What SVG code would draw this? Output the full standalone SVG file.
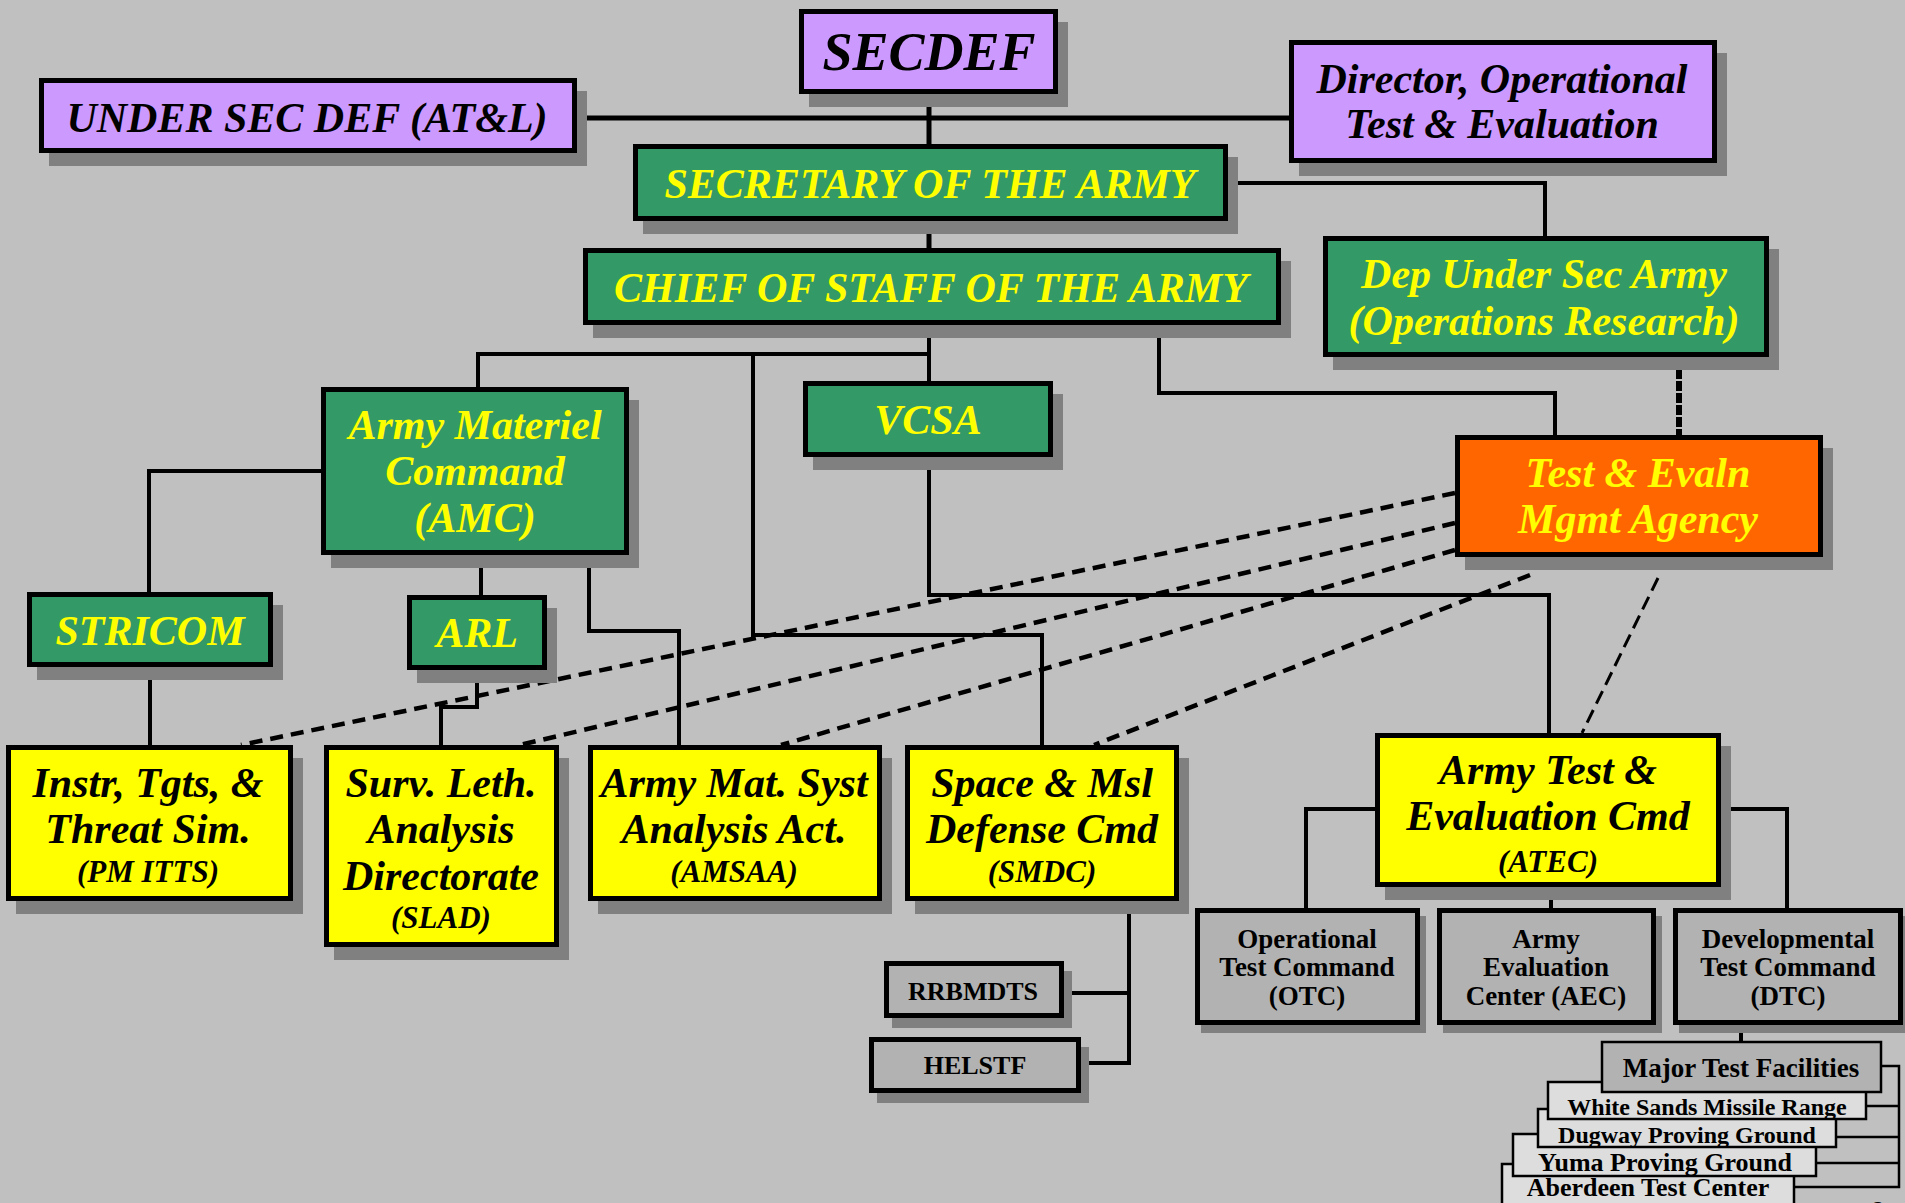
<svg xmlns="http://www.w3.org/2000/svg" width="1905" height="1203" viewBox="0 0 1905 1203">
<style>
.sh{fill:#808080}
.b{stroke:#000;stroke-width:5}
.pu{fill:#CC99FF}
.gr{fill:#339966}
.ye{fill:#FFFF00}
.or{fill:#FF6600}
.gy{fill:#B2B2B2}
.lt{fill:#DDDDDD;stroke:#000;stroke-width:2.5}
.mt{fill:#B2B2B2;stroke:#000;stroke-width:2.5}
.t{font-family:'Liberation Serif','Times New Roman',serif;font-weight:bold;font-style:italic;font-size:42px;text-anchor:middle}
.tk{fill:#000}
.ty{fill:#FFFF00}
.sm{font-size:31px}
.n{font-family:'Liberation Serif','Times New Roman',serif;font-weight:bold;font-size:27px;text-anchor:middle;fill:#000}
.c{fill:none;stroke:#000;stroke-width:4}
.c5{fill:none;stroke:#000;stroke-width:5}
.c2{fill:none;stroke:#000;stroke-width:2.5}
.d{fill:none;stroke:#000;stroke-width:4.5;stroke-dasharray:13 8}
.d2{fill:none;stroke:#000;stroke-width:3;stroke-dasharray:14 7}
.dd{fill:none;stroke:#000;stroke-width:6;stroke-dasharray:10 2}
</style>
<rect width="1905" height="1203" fill="#C0C0C0"/>
<g id="connectors">
<path class="c5" d="M929 94V144"/>
<path class="c5" d="M577 118H1289"/>
<path class="c5" d="M929 221V248"/>
<path class="c" d="M1228 183H1545V236"/>
<path class="c" d="M929 325V381"/>
<path class="c" d="M478 387V354H929"/>
<path class="c" d="M753 352V635H1042V745"/>
<path class="c" d="M1159 325V393H1555V435"/>
<path class="c" d="M929 457V595H1549V733"/>
<path class="c" d="M321 471H149V592"/>
<path class="c" d="M150 667V745"/>
<path class="c" d="M481 555V595"/>
<path class="c" d="M477 670V707H441V745"/>
<path class="c" d="M589 555V631H679V745"/>
<path class="c" d="M1129 901V1063H1081M1064 993H1129"/>
<path class="c" d="M1375 809H1306V908"/>
<path class="c" d="M1721 809H1787V908"/>
<path class="c" d="M1551 887V908"/>
<path class="c" d="M1741 1025V1041"/>
<path class="c2" d="M1882 1066H1899V1187H1795M1867 1106H1899M1837 1137H1899M1817 1163H1899"/>
<path class="d" d="M1455 493L241 745"/>
<path class="d" d="M1455 523L520 745"/>
<path class="d" d="M1455 550L781 745"/>
<path class="d" d="M1530 575L1094 745"/>
<path class="d2" d="M1658 578L1582 733"/>
<path class="dd" d="M1679 357V435"/>
</g>
<g id="usd"><rect class="sh" x="49" y="91" width="538" height="75"/><rect class="b pu" x="41.5" y="80.5" width="533" height="70"/><text class="t tk" x="307" y="132">UNDER SEC DEF (AT&amp;L)</text></g>
<g id="secdef"><rect class="sh" x="809" y="22" width="259" height="85"/><rect class="b pu" x="801.5" y="11.5" width="254" height="80"/><text class="t tk" x="929" y="70" style="font-size:54px">SECDEF</text></g>
<g id="dote"><rect class="sh" x="1299" y="53" width="428" height="123"/><rect class="b pu" x="1291.5" y="42.5" width="423" height="118"/><text class="t tk" x="1502" y="93">Director, Operational</text><text class="t tk" x="1502" y="138">Test &amp; Evaluation</text></g>
<g id="secarmy"><rect class="sh" x="643" y="157" width="595" height="77"/><rect class="b gr" x="635.5" y="146.5" width="590" height="72"/><text class="t ty" x="930" y="198">SECRETARY OF THE ARMY</text></g>
<g id="csa"><rect class="sh" x="593" y="261" width="698" height="77"/><rect class="b gr" x="585.5" y="250.5" width="693" height="72"/><text class="t ty" x="931" y="302">CHIEF OF STAFF OF THE ARMY</text></g>
<g id="dusa"><rect class="sh" x="1333" y="249" width="446" height="121"/><rect class="b gr" x="1325.5" y="238.5" width="441" height="116"/><text class="t ty" x="1544" y="288">Dep Under Sec Army</text><text class="t ty" x="1544" y="335">(Operations Research)</text></g>
<g id="amc"><rect class="sh" x="331" y="400" width="308" height="168"/><rect class="b gr" x="323.5" y="389.5" width="303" height="163"/><text class="t ty" x="475" y="439">Army Materiel</text><text class="t ty" x="475" y="485">Command</text><text class="t ty" x="475" y="532">(AMC)</text></g>
<g id="vcsa"><rect class="sh" x="813" y="394" width="250" height="76"/><rect class="b gr" x="805.5" y="383.5" width="245" height="71"/><text class="t ty" x="928" y="434">VCSA</text></g>
<g id="tema"><rect class="sh" x="1465" y="448" width="368" height="122"/><rect class="b or" x="1457.5" y="437.5" width="363" height="117"/><text class="t ty" x="1638" y="487">Test &amp; Evaln</text><text class="t ty" x="1638" y="533">Mgmt Agency</text></g>
<g id="stricom"><rect class="sh" x="37" y="605" width="246" height="75"/><rect class="b gr" x="29.5" y="594.5" width="241" height="70"/><text class="t ty" x="150" y="645">STRICOM</text></g>
<g id="arl"><rect class="sh" x="417" y="608" width="140" height="75"/><rect class="b gr" x="409.5" y="597.5" width="135" height="70"/><text class="t ty" x="477" y="647">ARL</text></g>
<g id="pmitts"><rect class="sh" x="16" y="758" width="287" height="156"/><rect class="b ye" x="8.5" y="747.5" width="282" height="151"/><text class="t tk" x="148" y="797">Instr, Tgts, &amp;</text><text class="t tk" x="148" y="843">Threat Sim.</text><text class="t tk sm" x="148" y="882">(PM ITTS)</text></g>
<g id="slad"><rect class="sh" x="334" y="758" width="235" height="202"/><rect class="b ye" x="326.5" y="747.5" width="230" height="197"/><text class="t tk" x="441" y="797">Surv. Leth.</text><text class="t tk" x="441" y="843">Analysis</text><text class="t tk" x="441" y="890">Directorate</text><text class="t tk sm" x="441" y="928">(SLAD)</text></g>
<g id="amsaa"><rect class="sh" x="598" y="758" width="294" height="156"/><rect class="b ye" x="590.5" y="747.5" width="289" height="151"/><text class="t tk" x="734" y="797">Army Mat. Syst</text><text class="t tk" x="734" y="843">Analysis Act.</text><text class="t tk sm" x="734" y="882">(AMSAA)</text></g>
<g id="smdc"><rect class="sh" x="915" y="758" width="274" height="156"/><rect class="b ye" x="907.5" y="747.5" width="269" height="151"/><text class="t tk" x="1042" y="797">Space &amp; Msl</text><text class="t tk" x="1042" y="843">Defense Cmd</text><text class="t tk sm" x="1042" y="882">(SMDC)</text></g>
<g id="atec"><rect class="sh" x="1385" y="746" width="346" height="154"/><rect class="b ye" x="1377.5" y="735.5" width="341" height="149"/><text class="t tk" x="1548" y="784">Army Test &amp;</text><text class="t tk" x="1548" y="830">Evaluation Cmd</text><text class="t tk sm" x="1548" y="872">(ATEC)</text></g>
<g id="otc"><rect class="sh" x="1201" y="916" width="225" height="117"/><rect class="b gy" x="1197.5" y="910.5" width="220" height="112"/><text class="n" x="1307" y="948">Operational</text><text class="n" x="1307" y="976">Test Command</text><text class="n" x="1307" y="1005">(OTC)</text></g>
<g id="aec"><rect class="sh" x="1443" y="916" width="219" height="117"/><rect class="b gy" x="1439.5" y="910.5" width="214" height="112"/><text class="n" x="1546" y="948">Army</text><text class="n" x="1546" y="976">Evaluation</text><text class="n" x="1546" y="1005">Center (AEC)</text></g>
<g id="dtc"><rect class="sh" x="1679" y="916" width="230" height="117"/><rect class="b gy" x="1675.5" y="910.5" width="225" height="112"/><text class="n" x="1788" y="948">Developmental</text><text class="n" x="1788" y="976">Test Command</text><text class="n" x="1788" y="1005">(DTC)</text></g>
<g id="rrbmdts"><rect class="sh" x="892" y="971" width="180" height="57"/><rect class="b gy" x="886.5" y="963.5" width="175" height="52"/><text class="n" x="973" y="1000" style="font-size:26px">RRBMDTS</text></g>
<g id="helstf"><rect class="sh" x="877" y="1047" width="212" height="56"/><rect class="b gy" x="871.5" y="1039.5" width="207" height="51"/><text class="n" x="975" y="1074" style="font-size:26px">HELSTF</text></g>
<g id="aberdeen"><rect class="lt" x="1502" y="1164" width="292" height="60"/><text class="n" x="1648" y="1196" style="font-size:26px">Aberdeen Test Center</text></g>
<g id="yuma"><rect class="lt" x="1513" y="1134" width="303" height="42"/><text class="n" x="1665" y="1171" style="font-size:26px">Yuma Proving Ground</text></g>
<g id="dugway"><rect class="lt" x="1538" y="1109" width="298" height="38"/><text class="n" x="1687" y="1143" style="font-size:24px">Dugway Proving Ground</text></g>
<g id="wsmr"><rect class="lt" x="1548" y="1082" width="318" height="37"/><text class="n" x="1707" y="1115" style="font-size:24px">White Sands Missile Range</text></g>
<g id="mtf"><rect class="mt" x="1602" y="1042" width="279" height="50"/><text class="n" x="1741" y="1077">Major Test Facilities</text></g>
<text x="1873" y="1216" style="font-family:'Liberation Serif',serif;font-size:22px" fill="#000">2</text>
</svg>
